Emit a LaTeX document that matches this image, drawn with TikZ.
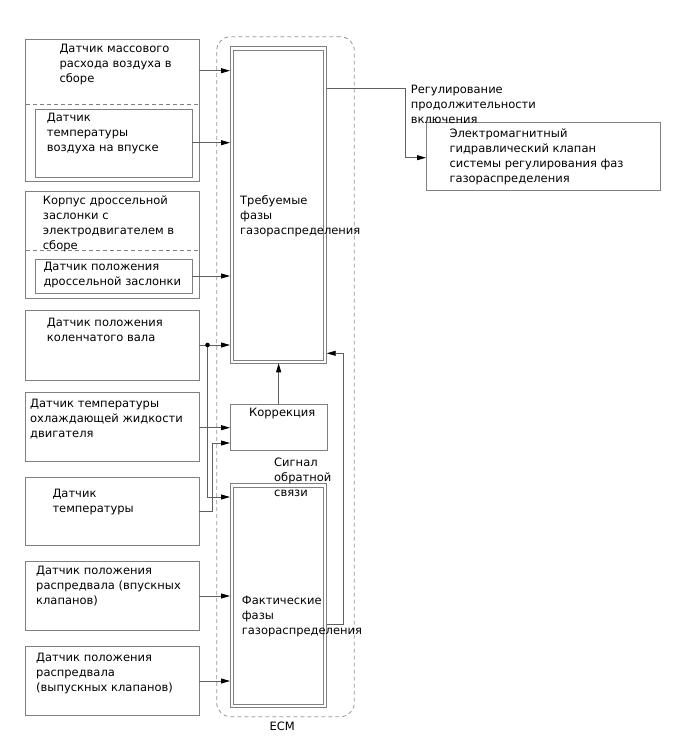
\documentclass[tikz,border=0pt]{standalone}
\usepackage{fontspec}
\setmainfont{DejaVu Sans}
\usetikzlibrary{arrows.meta,calc}
\definecolor{boxgray}{RGB}{128,128,128}
\definecolor{wiregray}{RGB}{95,95,95}
\definecolor{ecmgray}{RGB}{150,150,150}

\begin{document}
\begin{tikzpicture}[
        x=1pt, y=-1pt,
        font=\fontsize{11.5}{15}\selectfont,
        sensor/.style = {rectangle, draw=boxgray, line width=0.8pt, inner sep=0, outer sep=0, anchor=north west},
        txt/.style = {anchor=north west, inner sep=0, align=left},
        split/.style = {draw=boxgray, line width=0.8pt, dash pattern=on 4pt off 3pt},
        wire/.style = {draw=wiregray, line width=0.8pt},
        feed/.style = {wire, -{Triangle[length=9pt, width=5pt, color=black]}}
]
        \useasboundingbox (0,0) rectangle (688,755);

        \node[sensor, draw=ecmgray, dash pattern=on 4pt off 3pt, rounded corners=14pt, minimum width=137.6pt, minimum height=680pt] (ecm) at (216.7,36.7) {};
        \node[txt] (ecmtxt) at (269.3,721.7) {ECM};

        \node[sensor, minimum width=173.3pt, minimum height=142.4pt] (maf) at (25.7,39.3) {};
        \node[sensor, minimum width=156.3pt, minimum height=68pt] (iat) at (35.7,109) {};
        \node[sensor, minimum width=173.3pt, minimum height=107pt] (tb) at (25.7,191.7) {};
        \node[sensor, minimum width=156.3pt, minimum height=34.7pt] (tps) at (35.7,259) {};
        \node[sensor, minimum width=173.3pt, minimum height=69.3pt] (ckp) at (25.7,310.7) {};
        \node[sensor, minimum width=173.3pt, minimum height=69pt] (ect) at (25.7,392.7) {};
        \node[sensor, minimum width=173.3pt, minimum height=68pt] (tmp) at (25.7,477.7) {};
        \node[sensor, minimum width=173.3pt, minimum height=68.3pt] (camin) at (25.7,561.7) {};
        \node[sensor, minimum width=173.3pt, minimum height=68.3pt] (camex) at (25.7,646.7) {};
        \draw[split] (maf.west |- 0,104) -- (maf.east |- 0,104);
        \draw[split] (tb.west |- 0,250.3) -- (tb.east |- 0,250.3);

        \node[txt] (maftxt) at (59.3,44) {Датчик массового\\расхода воздуха в\\сборе};
        \node[txt] (iattxt) at (46.7,113.3) {Датчик\\температуры\\воздуха на впуске};
        \node[txt] (tbtxt) at (42.7,196) {Корпус дроссельной\\заслонки с\\электродвигателем в\\сборе};
        \node[txt] (tpstxt) at (43.3,261.7) {Датчик положения\\дроссельной заслонки};
        \node[txt] (ckptxt) at (46.7,318.3) {Датчик положения\\коленчатого вала};
        \node[txt] (ecttxt) at (30,399.3) {Датчик температуры\\охлаждающей жидкости\\двигателя};
        \node[txt] (tmptxt) at (52.3,489.3) {Датчик\\температуры};
        \node[txt] (camintxt) at (36,566) {Датчик положения\\распредвала (впускных\\клапанов)};
        \node[txt] (camextxt) at (36,653.3) {Датчик положения\\распредвала\\(выпускных клапанов)};

        \node[sensor, minimum width=96.7pt, minimum height=316.6pt] (req) at (230,46.7) {};
        \draw[boxgray, line width=0.8pt] ($(req.north west)+(3.3,3.3)$) rectangle ($(req.south east)+(-3.3,-3.3)$);
        \node[sensor, minimum width=97.3pt, minimum height=46.4pt] (corr) at (230,404.3) {};
        \node[sensor, minimum width=96.7pt, minimum height=224pt] (act) at (230,483.7) {};
        \draw[boxgray, line width=0.8pt] ($(act.north west)+(3.3,3.3)$) rectangle ($(act.south east)+(-3.3,-3.3)$);
        \node[sensor, minimum width=234pt, minimum height=68pt] (valve) at (426,122.3) {};

        \node[txt] (reqtxt) at (240,195) {Требуемые\\фазы\\газораспределения};
        \node[txt] (corrtxt) at (249,408.3) {Коррекция};
        \node[txt] (fbtxt) at (274,457.7) {Сигнал\\обратной\\связи};
        \node[txt] (acttxt) at (241.7,596) {Фактические\\фазы\\газораспределения};
        \node[txt] (outtxt) at (410.7,85) {Регулирование\\продолжительности\\включения};
        \node[txt] (valvetxt) at (449.3,128.3) {Электромагнитный\\гидравлический клапан\\системы регулирования фаз\\газораспределения};

        \draw[feed] (maf.east |- 0,70.7) -- (req.west |- 0,70.7);
        \draw[feed] (iat.east |- 0,142.7) -- (req.west |- 0,142.7);
        \draw[feed] (tps.east |- 0,276) -- (req.west |- 0,276);
        \coordinate (ckpdot) at (207.5,345);
        \draw[feed] (ckp.east |- ckpdot) -- (req.west |- ckpdot);
        \draw[feed] (ckpdot) |- (act.west |- 0,497);
        \fill (ckpdot) circle (2.3pt);
        \draw[feed] (ect.east |- 0,427.7) -- (corr.west |- 0,427.7);
        \coordinate (tmpbend) at (212.3,511.7);
        \draw[feed] (tmp.east |- tmpbend) -- (tmpbend) |- (corr.west |- 0,443);
        \draw[feed] (camin.east |- 0,596) -- (act.west |- 0,596);
        \draw[feed] (camex.east |- 0,681) -- (act.west |- 0,681);
        \draw[feed] (corr.north) -- (corr.north |- req.south);
        \coordinate (fbup) at (343.3,624);
        \draw[feed] (act.east |- fbup) -- (fbup) |- (req.east |- 0,353.3);
        \coordinate (outdown) at (405,88.3);
        \draw[feed] (req.east |- outdown) -- (outdown) |- (valve.west |- 0,157.7);
\end{tikzpicture}
\end{document}
